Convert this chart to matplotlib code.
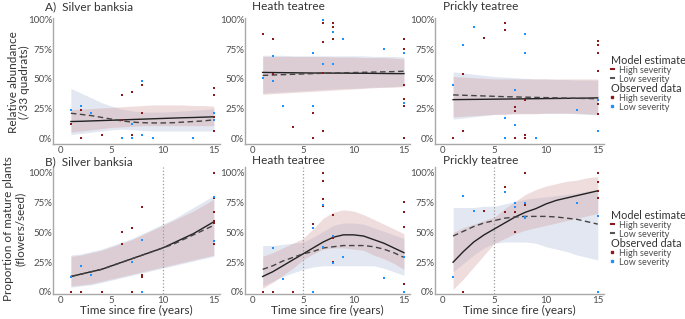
import matplotlib.pyplot as plt
from matplotlib.lines import Line2D
import numpy as np

plt.rcParams['font.family'] = ['Lato', 'DejaVu Sans']

years = list(range(1, 16))

# ---- A) relative abundance: observed points ----
a1_hi_x = [1, 2, 2, 4, 6, 6, 7, 7, 8, 8, 15, 15, 15, 15]
a1_hi_y = [12, 24, 0, 3, 36, 15, 39, 3, 45, 21, 42, 36, 18, 6]
a1_lo_x = [1, 2, 3, 6, 7, 7, 8, 8, 9, 13, 15, 15]
a1_lo_y = [24, 27, 21, 0, 12, 0, 48, 3, 0, 0, 21, 15]

a2_hi_x = [1, 2, 2, 4, 6, 6, 7, 7, 7, 7, 8, 8, 8, 15, 15, 15, 15, 15, 15]
a2_hi_y = [88, 84, 54, 9, 21, 0, 97, 81, 55, 6, 97, 94, 84, 84, 75, 45, 33, 27, 0]
a2_lo_x = [1, 2, 2, 3, 6, 6, 7, 7, 8, 8, 9, 13, 15, 15]
a2_lo_y = [51, 69, 48, 27, 72, 27, 100, 63, 90, 63, 84, 75, 72, 30]

a3_hi_x = [1, 2, 2, 4, 6, 6, 7, 7, 7, 8, 8, 8, 15, 15, 15, 15, 15, 15]
a3_hi_y = [0, 54, 6, 85, 97, 91, 26, 23, 0, 32, 3, 0, 82, 79, 72, 57, 29, 20]
a3_lo_x = [1, 2, 3, 6, 6, 7, 7, 8, 8, 9, 13, 15, 15]
a3_lo_y = [45, 79, 94, 17, 0, 41, 11, 88, 72, 0, 24, 32, 6]

# ---- A) model estimates (%), years 1..15 ----
a1_hi_fit = [14, 14.2, 14.5, 14.8, 15.1, 15.4, 15.7, 16, 16.3, 16.6, 16.9, 17.2, 17.4, 17.7, 18]
a1_hi_low = [5, 6, 7, 8, 9, 9.5, 10, 10.5, 10.5, 10.5, 10.5, 10.5, 10.5, 10.5, 10.5]
a1_hi_upp = [24, 24.5, 25, 25.5, 26, 26.5, 27, 27.5, 28, 28, 28, 28, 27.5, 27.5, 27]
a1_lo_fit = [21, 20, 19, 17.5, 16, 14.5, 13.5, 13, 12.8, 12.8, 13, 13.5, 14, 14.5, 15.5]
a1_lo_low = [3, 4, 5, 6, 7, 7.5, 7, 6.5, 6, 6, 6, 6, 6, 6, 6]
a1_lo_upp = [42, 38, 34, 30, 27, 24.5, 23, 22, 22, 22, 22.5, 23, 23.5, 24, 25]

a2_hi_fit = [55.5, 55.4, 55.3, 55.2, 55.1, 55, 55, 54.9, 54.9, 54.8, 54.8, 54.7, 54.6, 54.5, 54.5]
a2_hi_low = [37, 37.5, 38, 38.5, 39, 39.5, 40, 40.5, 41, 41.5, 42, 42.5, 43, 43, 43.5]
a2_hi_upp = [69, 69, 69, 69, 69, 69, 69, 68.5, 68.5, 68.5, 68, 68, 68, 67.5, 67]
a2_lo_fit = [53, 53.3, 53.6, 53.9, 54.2, 54.5, 54.8, 55, 55.2, 55.4, 55.6, 55.8, 56, 56.2, 56.5]
a2_lo_low = [38, 38.5, 39, 39.5, 40, 40.5, 41, 41.5, 42, 42, 42.5, 43, 43, 43.5, 44]
a2_lo_upp = [70, 70, 70, 69.5, 69.5, 69.5, 69.5, 69.5, 69.5, 69.5, 69.5, 69, 69, 69, 68.5]

a3_hi_fit = [32.5, 32.6, 32.7, 32.8, 32.9, 33, 33.1, 33.2, 33.3, 33.4, 33.5, 33.6, 33.7, 33.8, 34]
a3_hi_low = [18, 18.5, 19, 19.5, 20, 20, 20.5, 20.5, 20.5, 21, 21, 21, 21, 20.5, 20]
a3_hi_upp = [52, 51.5, 51, 50.5, 50, 50, 50, 50, 50, 50, 50, 50, 50, 50, 50]
a3_lo_fit = [36.5, 36.2, 35.9, 35.6, 35.3, 35, 34.8, 34.6, 34.4, 34.2, 34, 33.8, 33.6, 33.4, 33.2]
a3_lo_low = [16, 17, 18, 19, 20, 20.5, 21, 21, 21, 21, 21, 21, 20.5, 20, 19.5]
a3_lo_upp = [56, 55, 54, 53, 52, 51.5, 51, 50.5, 50, 50, 49.5, 49.5, 49, 49, 49]

# ---- B) proportion of mature plants: observed points ----
b1_hi_x = [1, 2, 4, 6, 6, 7, 7, 8, 8, 8, 15, 15, 15, 15, 15, 15]
b1_hi_y = [0, 0, 0, 50, 40, 54, 0, 71, 14, 13, 100, 79, 67, 60, 58, 40]
b1_lo_x = [1, 2, 3, 7, 8, 8, 15, 15]
b1_lo_y = [13, 22, 14, 25, 44, 0, 80, 43]

b2_hi_x = [1, 2, 4, 6, 7, 7, 7, 7, 8, 8, 8, 15, 15, 15, 15, 15]
b2_hi_y = [0, 0, 0, 57, 100, 93, 78, 72, 65, 45, 25, 76, 67, 55, 29, 7]
b2_lo_x = [2, 3, 6, 6, 7, 7, 8, 8, 9, 13, 15, 15]
b2_lo_y = [37, 11, 54, 0, 73, 38, 47, 24, 29, 12, 29, 0]

b3_hi_x = [2, 4, 6, 6, 7, 7, 8, 8, 15, 15, 15, 15]
b3_hi_y = [0, 68, 88, 67, 67, 50, 100, 73, 100, 92, 85, 79]
b3_lo_x = [1, 2, 3, 6, 7, 7, 8, 8, 8, 13, 15, 15]
b3_lo_y = [13, 81, 68, 84, 75, 71, 75, 63, 62, 75, 64, 0]

# ---- B) model estimates (%), years 1..15 ----
b1_hi_fit = [13, 15, 17, 19, 22, 25, 28, 31, 34, 37, 41, 45, 49, 54, 59]
b1_hi_low = [5, 6, 7, 9, 11, 13, 15, 17, 19, 21, 23, 25, 27, 29, 31]
b1_hi_upp = [30, 31, 33, 35, 38, 41, 44, 48, 52, 56, 60, 64, 68, 73, 78]
b1_lo_fit = [13, 15, 17, 19, 22, 25, 28, 31, 34, 37, 40, 44, 48, 52, 56]
b1_lo_low = [4, 5, 6, 8, 10, 12, 14, 16, 18, 20, 22, 24, 26, 28, 30]
b1_lo_upp = [31, 32, 34, 36, 39, 42, 45, 49, 53, 57, 61, 66, 71, 76, 81]

b2_hi_fit = [13, 17, 22, 27, 32, 37, 42, 46, 48, 48, 47, 44, 41, 37, 33]
b2_hi_low = [3, 8, 14, 20, 27, 32, 36, 37, 37, 36, 35, 31, 28, 24, 19]
b2_hi_upp = [30, 33, 37, 41, 45, 53, 62, 67, 69, 68, 65, 61, 57, 53, 49]
b2_lo_fit = [19, 22, 26, 29, 32, 34, 37, 38, 39, 39, 39, 38, 36, 33, 29]
b2_lo_low = [5, 9, 13, 16, 19, 21, 22, 22, 22, 22, 22, 22, 20, 17, 14]
b2_lo_upp = [39, 39, 40, 41, 42, 46, 51, 56, 58, 58, 57, 54, 51, 48, 45]

b3_hi_fit = [25, 34, 42, 48, 53, 58, 63, 67, 70, 74, 77, 79, 81, 83, 85]
b3_hi_low = [2, 11, 21, 31, 41, 45, 49, 52, 54, 56, 58, 60, 62, 64, 66]
b3_hi_upp = [50, 54, 57, 60, 63, 70, 76, 82, 86, 89, 91, 93, 94, 96, 97]
b3_lo_fit = [47, 51, 55, 58, 60, 62, 63, 63.5, 63.5, 63.5, 63, 62, 61, 59, 57]
b3_lo_low = [17, 24, 31, 37, 41, 42, 42, 42, 41, 38, 36, 34, 31, 29, 27]
b3_lo_upp = [71, 71, 71, 72, 72, 74, 76, 78, 79, 80, 81, 82, 83, 85, 86]

titles = ['Silver banksia', 'Heath teatree', 'Prickly teatree']
threshold_b = [10, 5, 5]

HI = '#8b1a1a'
LO = '#1e90ff'
GREY = '#4d4d4d'
DARK = '#333333'

W, H = 685, 319
fig = plt.figure(figsize=(W / 100, H / 100), dpi=100)


def px_axes(l, t, r, b):
    ax = fig.add_axes([l / W, 1 - b / H, (r - l) / W, (b - t) / H])
    ax.set_facecolor('none')
    return ax


def pct(v):
    return np.array(v) / 100.0


def panel(ax, pts, fits, ylim, vline=None):
    hx, hy, lx, ly = pts
    hfit, hlow, hupp, lfit, llow, lupp = fits
    ax.fill_between(years, pct(llow), pct(lupp), color='#a7b9d6', alpha=0.33, lw=0)
    ax.fill_between(years, pct(hlow), pct(hupp), color='#d09a9a', alpha=0.33, lw=0)
    if vline is not None:
        ax.axvline(vline, color='#9a9a9a', ls=':', lw=0.9)
    ax.plot(years, pct(hfit), color='#222222', lw=1.0)
    ax.plot(years, pct(lfit), color='#444444', lw=1.0, ls=(0, (4, 2.5)))
    ax.scatter(hx, pct(hy), s=4, marker='s', color=HI, lw=0, zorder=5)
    ax.scatter(lx, pct(ly), s=4, marker='s', color=LO, lw=0, zorder=5)
    ax.set_xlim(-0.75, 15.6)
    ax.set_ylim(*ylim)
    ax.set_xticks([0, 5, 10, 15])
    ax.set_xticklabels(['0', '5', '10', '15'])
    ax.set_yticks([0, 0.25, 0.5, 0.75, 1.0])
    ax.set_yticklabels(['0%', '25%', '50%', '75%', '100%'])
    for s in ['top', 'right']:
        ax.spines[s].set_visible(False)
    for s in ['left', 'bottom']:
        ax.spines[s].set_color('#a8a8a8')
        ax.spines[s].set_linewidth(1.0)
    ax.tick_params(length=0, labelsize=7, labelcolor=GREY)
    ax.tick_params(axis='x', pad=1.5, labelbottom=True)
    ax.tick_params(axis='y', pad=0.5)


cols = [(53, 220), (245, 410), (435, 604)]

a_pts = [(a1_hi_x, a1_hi_y, a1_lo_x, a1_lo_y),
         (a2_hi_x, a2_hi_y, a2_lo_x, a2_lo_y),
         (a3_hi_x, a3_hi_y, a3_lo_x, a3_lo_y)]
a_fits = [(a1_hi_fit, a1_hi_low, a1_hi_upp, a1_lo_fit, a1_lo_low, a1_lo_upp),
          (a2_hi_fit, a2_hi_low, a2_hi_upp, a2_lo_fit, a2_lo_low, a2_lo_upp),
          (a3_hi_fit, a3_hi_low, a3_hi_upp, a3_lo_fit, a3_lo_low, a3_lo_upp)]
b_pts = [(b1_hi_x, b1_hi_y, b1_lo_x, b1_lo_y),
         (b2_hi_x, b2_hi_y, b2_lo_x, b2_lo_y),
         (b3_hi_x, b3_hi_y, b3_lo_x, b3_lo_y)]
b_fits = [(b1_hi_fit, b1_hi_low, b1_hi_upp, b1_lo_fit, b1_lo_low, b1_lo_upp),
          (b2_hi_fit, b2_hi_low, b2_hi_upp, b2_lo_fit, b2_lo_low, b2_lo_upp),
          (b3_hi_fit, b3_hi_low, b3_hi_upp, b3_lo_fit, b3_lo_low, b3_lo_upp)]

for i, (l, r) in enumerate(cols):
    axb = px_axes(l, 167, r, 294)
    panel(axb, b_pts[i], b_fits[i], (-0.017, 1.05), vline=threshold_b[i])
    axb.set_xlabel('Time since fire (years)', fontsize=8.5, color=DARK, labelpad=0)
    axa = px_axes(l, 18, r, 144)
    panel(axa, a_pts[i], a_fits[i], (-0.05, 1.015))
    if i == 0:
        fig.text(45 / W, 1 - 7 / H, 'A)  ' + titles[i], fontsize=8.5, color=DARK, va='center')
        fig.text(45 / W, 1 - 162 / H, 'B)  ' + titles[i], fontsize=8.5, color=DARK, va='center')
    else:
        x0 = 252 if i == 1 else 443
        fig.text(x0 / W, 1 - 6 / H, titles[i], fontsize=8.5, color=DARK, va='center')
        fig.text(x0 / W, 1 - 161 / H, titles[i], fontsize=8.5, color=DARK, va='center')

fig.text(19 / W, 1 - 82 / H, 'Relative abundance\n(/33 quadrats)', rotation=90,
         ha='center', va='center', fontsize=8.5, color=DARK, linespacing=1.1)
fig.text(14 / W, 1 - 229 / H, 'Proportion of mature plants\n(flowers/seed)', rotation=90,
         ha='center', va='center', fontsize=8.5, color=DARK, linespacing=1.1)

model_h = [Line2D([], [], color=HI, lw=1.5), Line2D([], [], color='#555555', lw=1.5)]
obs_h = [Line2D([], [], color=HI, marker='s', ms=2, ls=''),
         Line2D([], [], color=LO, marker='s', ms=2, ls='')]
labels = ['High severity', 'Low severity']

for top in (50, 205):
    for k, (hs, ttl) in enumerate([(model_h, 'Model estimate'), (obs_h, 'Observed data')]):
        leg = fig.legend(hs, labels, title=ttl, loc='upper left',
                         bbox_to_anchor=(606 / W, 1 - (top + k * 28) / H),
                         frameon=False, fontsize=6.5, title_fontsize=7.8,
                         handlelength=0.4, handletextpad=0.5, labelspacing=0.0,
                         borderpad=0, alignment='left')
        for t in leg.get_texts():
            t.set_color(GREY)
        leg.get_title().set_color(DARK)

fig.savefig('out.png', dpi=100)
